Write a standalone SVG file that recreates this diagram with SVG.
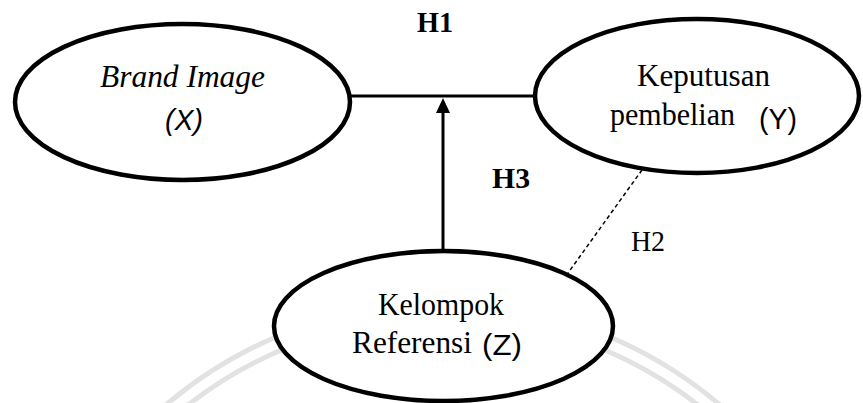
<svg xmlns="http://www.w3.org/2000/svg" width="863" height="403" viewBox="0 0 863 403">
<style>
.node{fill:#fff;stroke:#000;stroke-width:4.5}
.serif{font-family:"Liberation Serif","Times New Roman",serif;font-size:32px;fill:#000}
.sans{font-family:"Liberation Sans",Arial,sans-serif;font-size:29px;fill:#000}
.lbl{font-family:"Liberation Serif","Times New Roman",serif;font-size:29px;fill:#000}
.wm{fill:none;stroke:#e2e2e2;stroke-width:5}
</style>
<rect width="863" height="403" fill="#fff"/>
<g id="watermark">
<circle class="wm" cx="443" cy="730" r="427"/>
<circle class="wm" cx="443" cy="730" r="413"/>
</g>
<g id="connectors">
<line x1="350" y1="96" x2="535" y2="96" stroke="#000" stroke-width="3"/>
<line x1="443" y1="252" x2="443" y2="110" stroke="#000" stroke-width="3"/>
<polygon points="443,98 436,113 450,113" fill="#000"/>
<line x1="642" y1="170" x2="568" y2="273" stroke="#000" stroke-width="1.5" stroke-dasharray="4,3"/>
<text class="lbl" x="417" y="32" font-weight="bold" textLength="36" lengthAdjust="spacingAndGlyphs">H1</text>
<text class="lbl" x="492" y="188" font-weight="bold" textLength="38" lengthAdjust="spacingAndGlyphs">H3</text>
<text class="lbl" x="631" y="251" textLength="34" lengthAdjust="spacingAndGlyphs">H2</text>
</g>
<g id="nodeX">
<ellipse class="node" cx="182.5" cy="102" rx="167.5" ry="78"/>
<text class="serif" x="100" y="87" font-style="italic" textLength="165" lengthAdjust="spacingAndGlyphs">Brand Image</text>
<text class="sans" x="165" y="130" font-style="italic" textLength="38" lengthAdjust="spacingAndGlyphs">(X)</text>
</g>
<g id="nodeY">
<ellipse class="node" cx="697" cy="96" rx="162" ry="77"/>
<text class="serif" x="637" y="86" textLength="133" lengthAdjust="spacingAndGlyphs">Keputusan</text>
<text class="serif" x="610" y="125" textLength="125" lengthAdjust="spacingAndGlyphs">pembelian</text>
<text class="sans" x="759" y="129" textLength="38" lengthAdjust="spacingAndGlyphs">(Y)</text>
</g>
<g id="nodeZ">
<ellipse class="node" cx="443.5" cy="326" rx="169.5" ry="75"/>
<text class="serif" x="378" y="315" textLength="126" lengthAdjust="spacingAndGlyphs">Kelompok</text>
<text class="serif" x="352" y="353" textLength="120" lengthAdjust="spacingAndGlyphs">Referensi</text>
<text class="sans" x="482" y="355" textLength="40" lengthAdjust="spacingAndGlyphs">(Z)</text>
</g>
</svg>
